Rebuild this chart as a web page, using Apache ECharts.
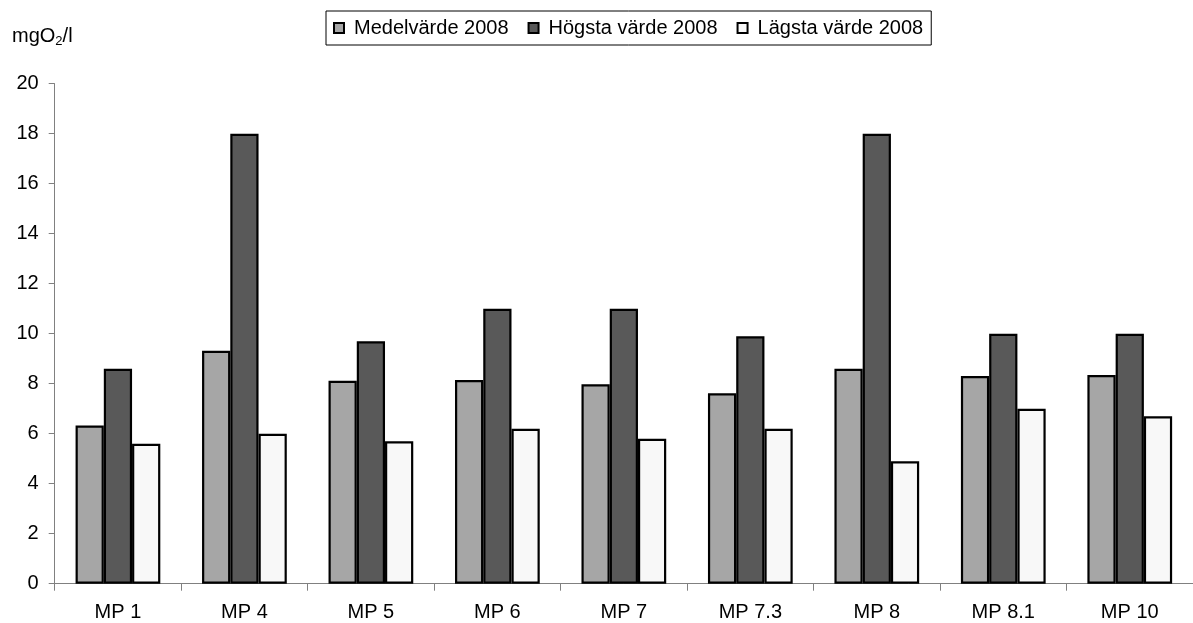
<!DOCTYPE html>
<html>
<head>
<meta charset="utf-8">
<script src="https://cdn.jsdelivr.net/npm/echarts@6/dist/echarts.min.js"></script>
<style>
  html, body { margin: 0; padding: 0; background: #fff; }
  #chart { width: 1193px; height: 623px; }
</style>
</head>
<body>
<div id="chart"></div>
<script>
// Measuring points along the watercourse
const categories = ['MP 1', 'MP 4', 'MP 5', 'MP 6', 'MP 7', 'MP 7.3', 'MP 8', 'MP 8.1', 'MP 10'];

// Oxygen content (mgO2/l), 2008
const medel  = [6.33, 9.32, 8.12, 8.15, 7.98, 7.62, 8.6, 8.31, 8.35];
const hogsta = [8.6, 18, 9.7, 11, 11, 9.9, 18, 10, 10];
const lagsta = [5.6, 6.0, 5.7, 6.2, 5.8, 6.2, 4.9, 7.0, 6.7];

const seriesNames = ['Medelvärde 2008', 'Högsta värde 2008', 'Lägsta värde 2008'];
const yTicks = { min: 0, max: 20, interval: 2 };

const FONT = 'Liberation Sans, Arial, sans-serif';
const fills = ['#a6a6a6', '#595959', '#f8f8f8'];
const values = [medel, hogsta, lagsta];

const chart = echarts.init(document.getElementById('chart'), null, { renderer: 'canvas' });

chart.setOption({
  animation: false,
  backgroundColor: '#ffffff',
  textStyle: { fontFamily: FONT, color: '#000' },
  grid: { left: 54.7, top: 83.7, width: 1146.6, height: 500, containLabel: false },
  title: {
    left: 12,
    top: 24,
    padding: 0,
    text: '{a|mgO}{b|2}{a|/l}',
    textStyle: {
      fontWeight: 'normal',
      rich: {
        a: { fontFamily: FONT, fontSize: 20, fontWeight: 'normal', color: '#000' },
        b: { fontFamily: FONT, fontSize: 13, fontWeight: 'normal', color: '#000', padding: [11, 0, 0, 0] }
      }
    }
  },
  legend: {
    left: 326,
    top: 11,
    padding: [7, 8, 7, 7],
    itemGap: 19,
    itemWidth: 10,
    itemHeight: 10,
    icon: 'rect',
    borderColor: '#000',
    borderWidth: 1,
    itemStyle: { borderColor: '#000', borderWidth: 2 },
    textStyle: { fontFamily: FONT, fontSize: 20, color: '#000', padding: [0, 0, 0, 5] },
    data: seriesNames
  },
  xAxis: {
    type: 'category',
    data: categories,
    axisLine: { lineStyle: { color: '#808080', width: 1 } },
    axisTick: { show: true, length: 7, lineStyle: { color: '#808080' }, alignWithLabel: false },
    axisLabel: { fontFamily: FONT, fontSize: 20, color: '#000', margin: 19 },
    splitLine: { show: false }
  },
  yAxis: {
    type: 'value',
    min: yTicks.min,
    max: yTicks.max,
    interval: yTicks.interval,
    axisLine: { show: true, lineStyle: { color: '#808080', width: 1 } },
    axisTick: { show: true, length: 6, lineStyle: { color: '#808080' } },
    axisLabel: { fontFamily: FONT, fontSize: 20, color: '#000', margin: 16 },
    splitLine: { show: false }
  },
  series: seriesNames.map((name, i) => ({
    name,
    type: 'bar',
    data: values[i],
    barGap: '0%',
    barCategoryGap: '33%',
    itemStyle: { color: fills[i], borderColor: '#000', borderWidth: 2.2 },
    emphasis: { disabled: true }
  }))
});
</script>
</body>
</html>
